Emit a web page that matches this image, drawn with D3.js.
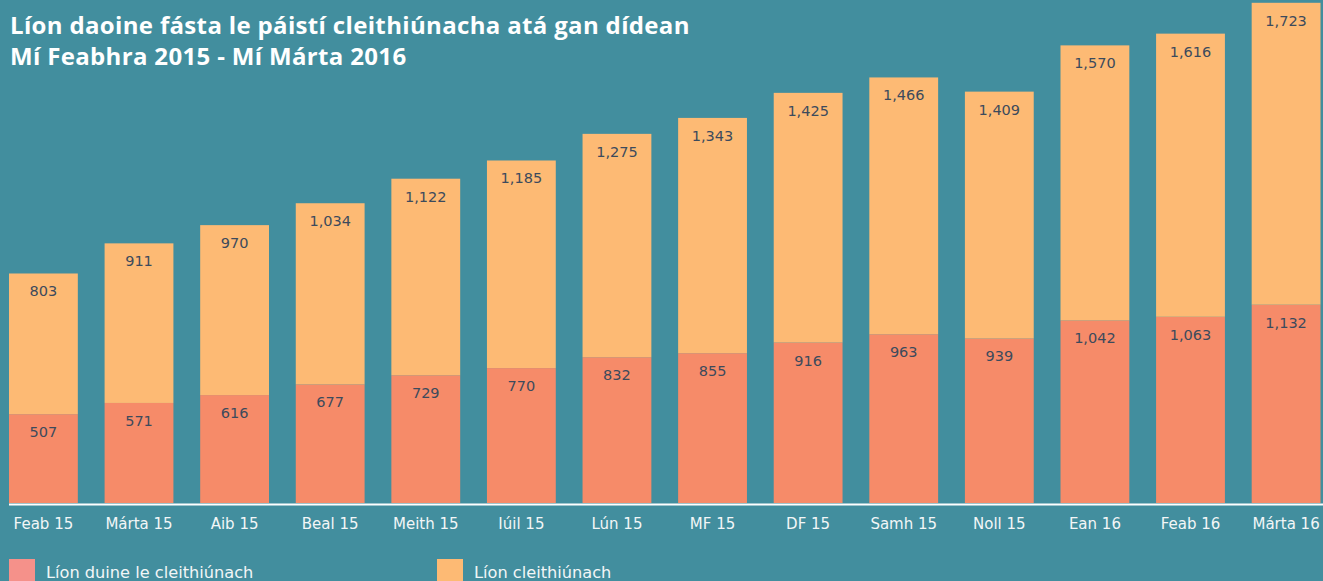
<!DOCTYPE html>
<html>
<head>
<meta charset="utf-8">
<script src="https://cdn.jsdelivr.net/npm/d3@7"></script>
<style>
  html, body { margin: 0; padding: 0; background: #428E9E; overflow: hidden; }
  svg { display: block; }
</style>
</head>
<body>
<svg id="chart" width="1323" height="581"></svg>
<script>
const categories = ["Feab 15","Márta 15","Aib 15","Beal 15","Meith 15","Iúil 15","Lún 15","MF 15","DF 15","Samh 15","Noll 15","Ean 16","Feab 16","Márta 16"];
const adults = [507,571,616,677,729,770,832,855,916,963,939,1042,1063,1132];
const dependents = [803,911,970,1034,1122,1185,1275,1343,1425,1466,1409,1570,1616,1723];
const seriesNames = ["Líon duine le cleithiúnach","Líon cleithiúnach"];
const titleLines = ["Líon daoine fásta le páistí cleithiúnacha atá gan dídean","Mí Feabhra 2015 - Mí Márta 2016"];

const W = 1323, H = 581;
const svg = d3.select("#chart");
svg.append("rect").attr("width", W).attr("height", H).attr("fill", "#428E9E");

const baseY = 503;
const x = d3.scaleBand().domain(categories).range([9, 1320.5]).paddingInner(0.28).paddingOuter(0).align(0);
const y = d3.scaleLinear().domain([0, 2855]).range([baseY, baseY - 2855 * 0.1752]);

const data = categories.map((c, i) => ({ c, a: adults[i], d: dependents[i] }));

const g = svg.append("g");
g.selectAll("rect.a").data(data).join("rect").attr("class","a")
  .attr("x", d => x(d.c)).attr("width", x.bandwidth())
  .attr("y", d => y(d.a)).attr("height", d => y(0) - y(d.a))
  .attr("fill", "#F68B69");
g.selectAll("rect.d").data(data).join("rect").attr("class","d")
  .attr("x", d => x(d.c)).attr("width", x.bandwidth())
  .attr("y", d => y(d.a + d.d)).attr("height", d => y(d.a) - y(d.a + d.d))
  .attr("fill", "#FDBA74");

const fmt = d3.format(",");
const labelFont = "'DejaVu Sans', sans-serif";
g.selectAll("text.la").data(data).join("text").attr("class","la")
  .attr("x", d => x(d.c) + x.bandwidth()/2).attr("y", d => y(d.a) + 23)
  .attr("text-anchor","middle").attr("font-family", labelFont).attr("font-size", 14.5)
  .attr("fill", "#3C4A5C").text(d => fmt(d.a));
g.selectAll("text.ld").data(data).join("text").attr("class","ld")
  .attr("x", d => x(d.c) + x.bandwidth()/2).attr("y", d => y(d.a + d.d) + 23)
  .attr("text-anchor","middle").attr("font-family", labelFont).attr("font-size", 14.5)
  .attr("fill", "#3C4A5C").text(d => fmt(d.d));

const axis = d3.axisBottom(x).tickSize(0).tickPadding(0);
const ax = svg.append("g").attr("transform", `translate(0,${baseY})`).call(axis);
ax.select(".domain").remove();
ax.selectAll("text").attr("font-family", labelFont).attr("font-size", 15)
  .attr("fill", "#F2F6F7").attr("dy", null).attr("y", 26);
svg.append("line").attr("x1", 9).attr("x2", W).attr("y1", baseY + 1.5).attr("y2", baseY + 1.5)
  .attr("stroke", "#FFFFFF").attr("stroke-width", 2);

svg.selectAll("text.title").data(titleLines).join("text").attr("class","title")
  .attr("x", 10).attr("y", (d, i) => 34 + i * 31)
  .attr("font-family", "'Open Sans', sans-serif").attr("font-weight", 700)
  .attr("font-size", 24).attr("letter-spacing", 0.34).attr("fill", "#FFFFFF").text(d => d);

const legColors = ["#F5918A", "#FDBA74"];
const legX = [9, 437];
const leg = svg.selectAll("g.leg").data(seriesNames).join("g").attr("class","leg")
  .attr("transform", (d, i) => `translate(${legX[i]},559)`);
leg.append("rect").attr("width", 26).attr("height", 26).attr("fill", (d, i) => legColors[i]);
leg.append("text").attr("x", 37).attr("y", 19).attr("font-family", labelFont)
  .attr("font-size", 16.2).attr("fill", "#F2F6F7").text(d => d);
</script>
</body>
</html>
